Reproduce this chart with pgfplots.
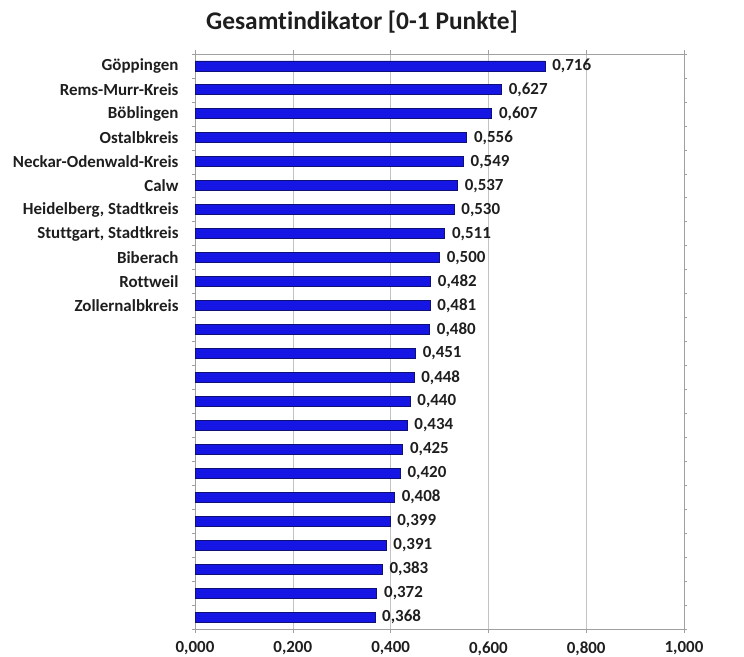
\documentclass[border=0pt]{standalone}
\usepackage{fontspec}
\setmainfont{Carlito}[Ligatures=NoCommon]
\usepackage{pgfplots}
\pgfplotsset{compat=1.18}
\definecolor{barfill}{RGB}{22,22,228}
\definecolor{bardraw}{RGB}{15,15,120}
\definecolor{gridc}{RGB}{195,195,195}
\definecolor{axisc}{RGB}{160,160,160}
\definecolor{txt}{RGB}{30,30,30}
\begin{document}
\begin{tikzpicture}
\path[use as bounding box] (0,0) rectangle (744bp,-657bp);
\node[font=\bfseries\fontsize{25.5}{28}\selectfont, text=txt] at (362bp,-22bp) {Gesamtindikator [0-1 Punkte]};
\begin{axis}[
  at={(195bp,-54bp)}, anchor=north west,
  scale only axis, width=489bp, height=575bp,
  xbar, bar width=10bp,
  xmin=0, xmax=1, ymin=-0.5, ymax=23.5, y dir=reverse,
  xtick={0,0.2,...,1},
  ytick={0,...,23},
  yticklabels={Göppingen,Rems-Murr-Kreis,Böblingen,Ostalbkreis,Neckar-Odenwald-Kreis,Calw,{Heidelberg, Stadtkreis},{Stuttgart, Stadtkreis},Biberach,Rottweil,Zollernalbkreis,,,,,,,,,,,,,},
  minor ytick={-0.5,0.5,...,23.5},
  major tick length=4bp, minor tick length=3bp,
  every major y tick/.append style={draw=none},
  tick align=outside,
  tick style={axisc, line width=0.6pt},
  xmajorgrids, major grid style={gridc, line width=0.6pt},
  axis line style={axisc, line width=0.6pt},
  /pgf/number format/assume math mode=true,
  xticklabel style={font=\bfseries\fontsize{17}{19}\selectfont, text=txt, yshift=-5bp},
  yticklabel style={font=\bfseries\fontsize{17}{19}\selectfont, text=txt, xshift=-9bp},
  xticklabel={\pgfmathprintnumber[fixed,fixed zerofill,precision=3,use comma]{\tick}},
  nodes near coords,
  nodes near coords style={font=\bfseries\fontsize{17}{19}\selectfont, text=txt, xshift=3.5bp, /pgf/number format/fixed, /pgf/number format/fixed zerofill, /pgf/number format/precision=3, /pgf/number format/use comma, /pgf/number format/assume math mode=true},
]
\addplot[fill=barfill, draw=bardraw, line width=0.9pt] coordinates {
(0.716,0) (0.627,1) (0.607,2) (0.556,3) (0.549,4) (0.537,5) (0.530,6) (0.511,7)
(0.500,8) (0.482,9) (0.481,10) (0.480,11) (0.451,12) (0.448,13) (0.440,14) (0.434,15)
(0.425,16) (0.420,17) (0.408,18) (0.399,19) (0.391,20) (0.383,21) (0.372,22) (0.368,23)
};
\end{axis}
\end{tikzpicture}
\end{document}
